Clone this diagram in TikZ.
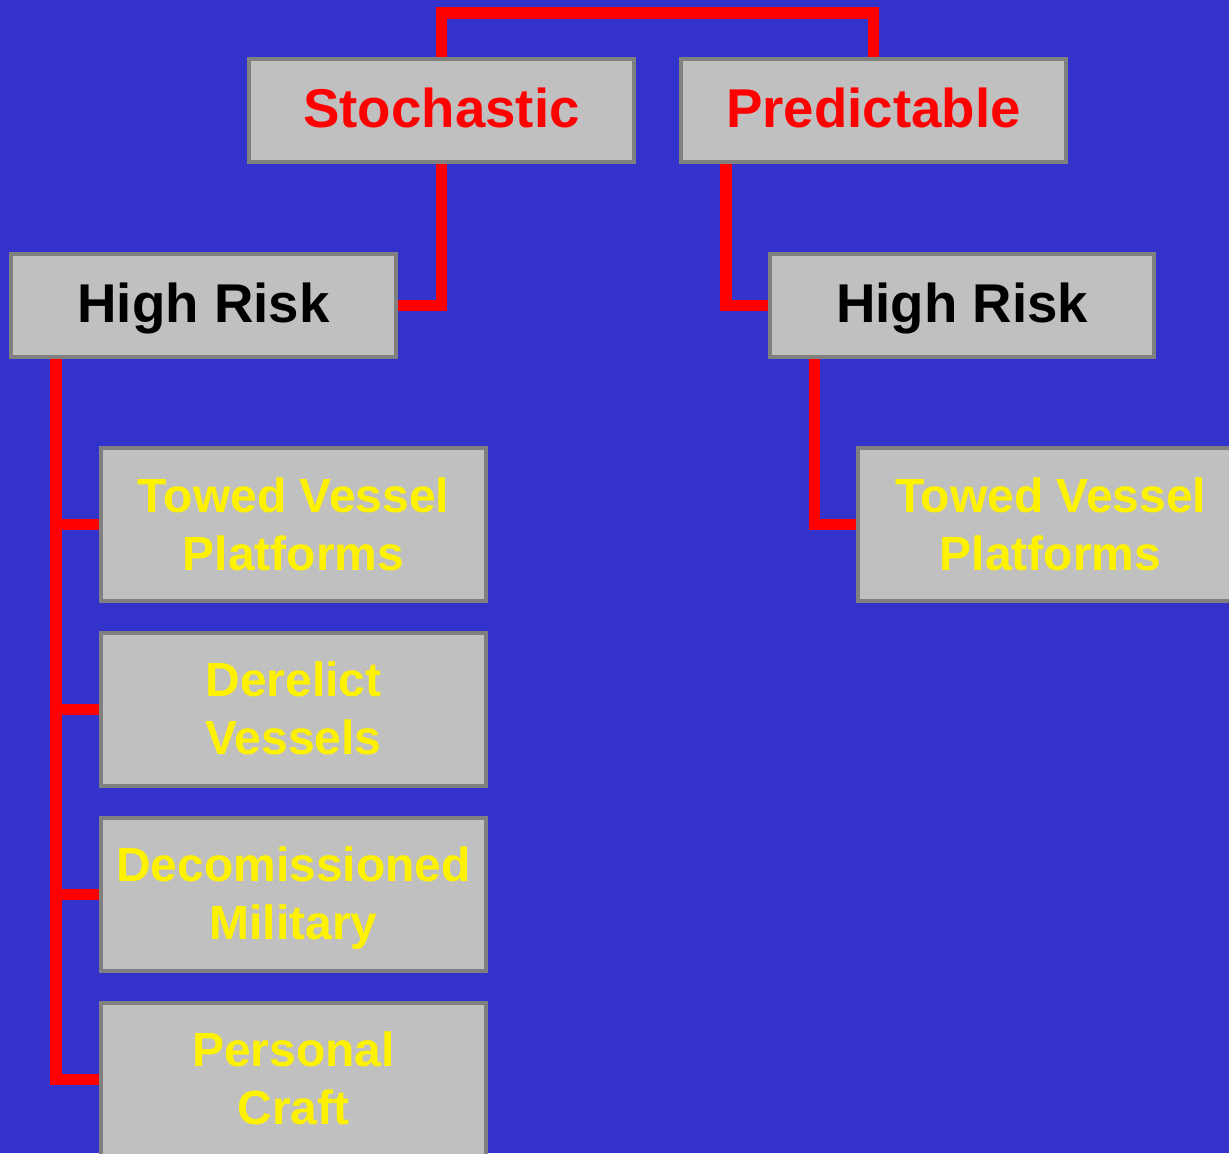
\documentclass[tikz,border=0pt]{standalone}
\usepackage{fontspec}
\setmainfont{Liberation Sans}
\usetikzlibrary{positioning,calc,backgrounds}
\definecolor{slidecolor}{RGB}{51,51,204}
\definecolor{boxcolor}{RGB}{192,192,192}
\definecolor{edgecolor}{RGB}{128,128,128}

\begin{document}
\begin{tikzpicture}[
    x=0.02cm, y=-0.02cm,
    node distance=0.56cm and 0.86cm,
    box/.style={rectangle, draw=edgecolor, fill=boxcolor, line width=0.08cm, minimum width=7.7cm, align=center},
    topbox/.style={box, minimum height=2.06cm, text height=0.73cm, text depth=0.05cm, font=\fontsize{31.1}{37}\selectfont\bfseries},
    itembox/.style={box, minimum height=3.06cm, text height=1.9cm, text depth=0.08cm, text=yellow, font=\fontsize{27.3}{33}\selectfont\bfseries},
    link/.style={red, line width=0.23cm}
]
\useasboundingbox (0,0) rectangle (1229,1153);

% Top level
\node[topbox, text=red] (stoch) at (441.5,110.5) {Stochastic};
\node[topbox, text=red, right=of stoch] (pred) {Predictable};

% Risk level
\node[topbox] (risk1) at (203.5,305.5) {High Risk};
\node[topbox] (risk2) at (962,305.5) {High Risk};

% Stochastic items
\node[itembox] (tow1) at (293.5,524.5) {Towed Vessel\\Platforms};
\node[itembox, below=of tow1] (derelict) {Derelict\\Vessels};
\node[itembox, below=of derelict] (decom) {Decomissioned\\Military};
\node[itembox, below=of decom] (craft) {Personal\\Craft};

% Predictable items
\node[itembox] (tow2) at (1050.5,524.5) {Towed Vessel\\Platforms};

% Lines
\coordinate (peak) at (657,13);
\coordinate (predfoot) at ([xshift=0.94cm]pred.south west);
\coordinate (risk1foot) at ([xshift=0.94cm]risk1.south west);
\coordinate (risk2foot) at ([xshift=0.94cm]risk2.south west);

\begin{scope}[on background layer]
\fill[slidecolor] (0,0) rectangle (1229,1153);
\draw[link] (stoch.north) |- (peak) -| (pred.north);
\draw[link] (stoch.south) |- (risk1.east);
\draw[link] (predfoot) |- (risk2.west);
\foreach \n in {tow1,derelict,decom,craft}
  \draw[link] (risk1foot) |- (\n.west);
\draw[link] (risk2foot) |- (tow2.west);
\end{scope}
\end{tikzpicture}
\end{document}
